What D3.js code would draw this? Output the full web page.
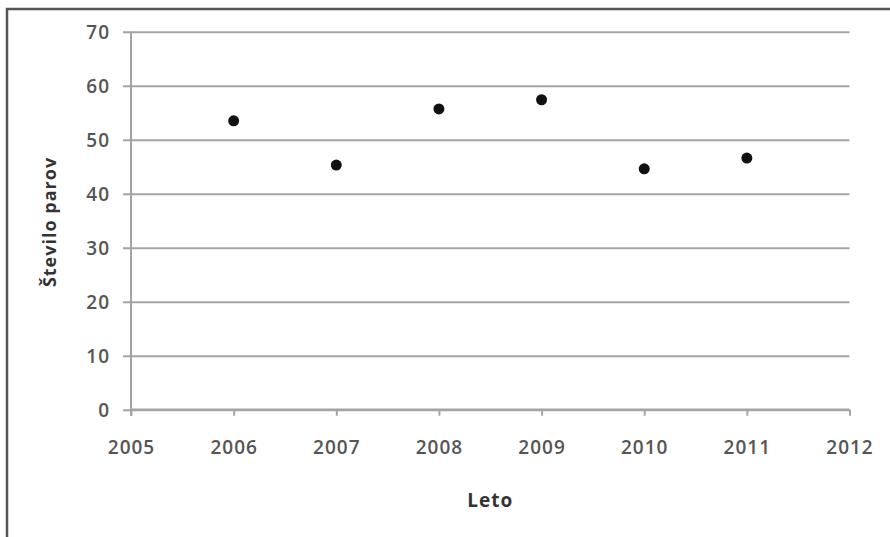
<!DOCTYPE html>
<html><head><meta charset="utf-8">
<script src="https://cdn.jsdelivr.net/npm/d3@7"></script>
<style>
html,body{margin:0;padding:0;background:#fff;}
svg text{font-family:"Open Sans","DejaVu Sans",sans-serif;}
</style></head>
<body><svg id="c" width="890" height="537"></svg>
<script>
const years = [2006, 2007, 2008, 2009, 2010, 2011];
const pairs = [53.5, 45.3, 55.7, 57.4, 44.6, 46.6];
const xTicks = [2005, 2006, 2007, 2008, 2009, 2010, 2011, 2012];
const yTicks = [0, 10, 20, 30, 40, 50, 60, 70];
const xTitle = "Leto";
const yTitle = "Število parov";

const svg = d3.select("#c");
// outer frame (top and left edges visible)
svg.append("path").attr("d","M7,540 V9 H892").attr("fill","none").attr("stroke","#555").attr("stroke-width",2.5);

const x = d3.scaleLinear().domain([2005,2012]).range([131,849.5]);
const y = d3.scaleLinear().domain([0,70]).range([409.7,31.7]);

// gridlines
const yAxis = d3.axisLeft(y).tickValues(yTicks).tickSize(-(849.5-123)).tickFormat(d3.format("d"));
const gy = svg.append("g").attr("transform","translate(123,0)").call(yAxis);
gy.select(".domain").remove();
gy.selectAll(".tick line").attr("stroke","#a4a4a4").attr("stroke-width",2);
gy.selectAll(".tick text").attr("fill","#555").attr("font-size",19).attr("font-weight",600)
  .attr("letter-spacing","1px").attr("x",-13).attr("dy","0.36em");

// y axis line
svg.append("line").attr("x1",x(2005)).attr("x2",x(2005)).attr("y1",y(70)).attr("y2",y(0)+6)
  .attr("stroke","#a4a4a4").attr("stroke-width",2);

// x axis
const xAxis = d3.axisBottom(x).tickValues(xTicks).tickSize(6).tickPadding(25).tickFormat(d3.format("d"));
const gx = svg.append("g").attr("transform",`translate(0,${y(0)})`).call(xAxis);
gx.select(".domain").attr("stroke","#a4a4a4").attr("stroke-width",2.5).attr("d",`M${x(2005)},0H${x(2012)}`);
gx.selectAll(".tick line").attr("stroke","#a4a4a4").attr("stroke-width",2);
gx.selectAll(".tick text").attr("fill","#555").attr("font-size",19).attr("font-weight",600).attr("letter-spacing","1px");

// points
svg.append("g").selectAll("circle").data(years).join("circle")
  .attr("cx",(d)=>x(d)).attr("cy",(d,i)=>y(pairs[i])).attr("r",5.5).attr("fill","#111");

// titles
svg.append("text").attr("x",(x(2005)+x(2012))/2).attr("y",507).attr("text-anchor","middle")
  .attr("font-size",19).attr("font-weight","bold").attr("letter-spacing","1px").attr("fill","#333").text(xTitle);
svg.append("text").attr("transform",`translate(56,222) rotate(-90)`).attr("text-anchor","middle")
  .attr("font-size",18).attr("font-weight","bold").attr("letter-spacing","1px").attr("fill","#333").text(yTitle);
</script></body></html>
